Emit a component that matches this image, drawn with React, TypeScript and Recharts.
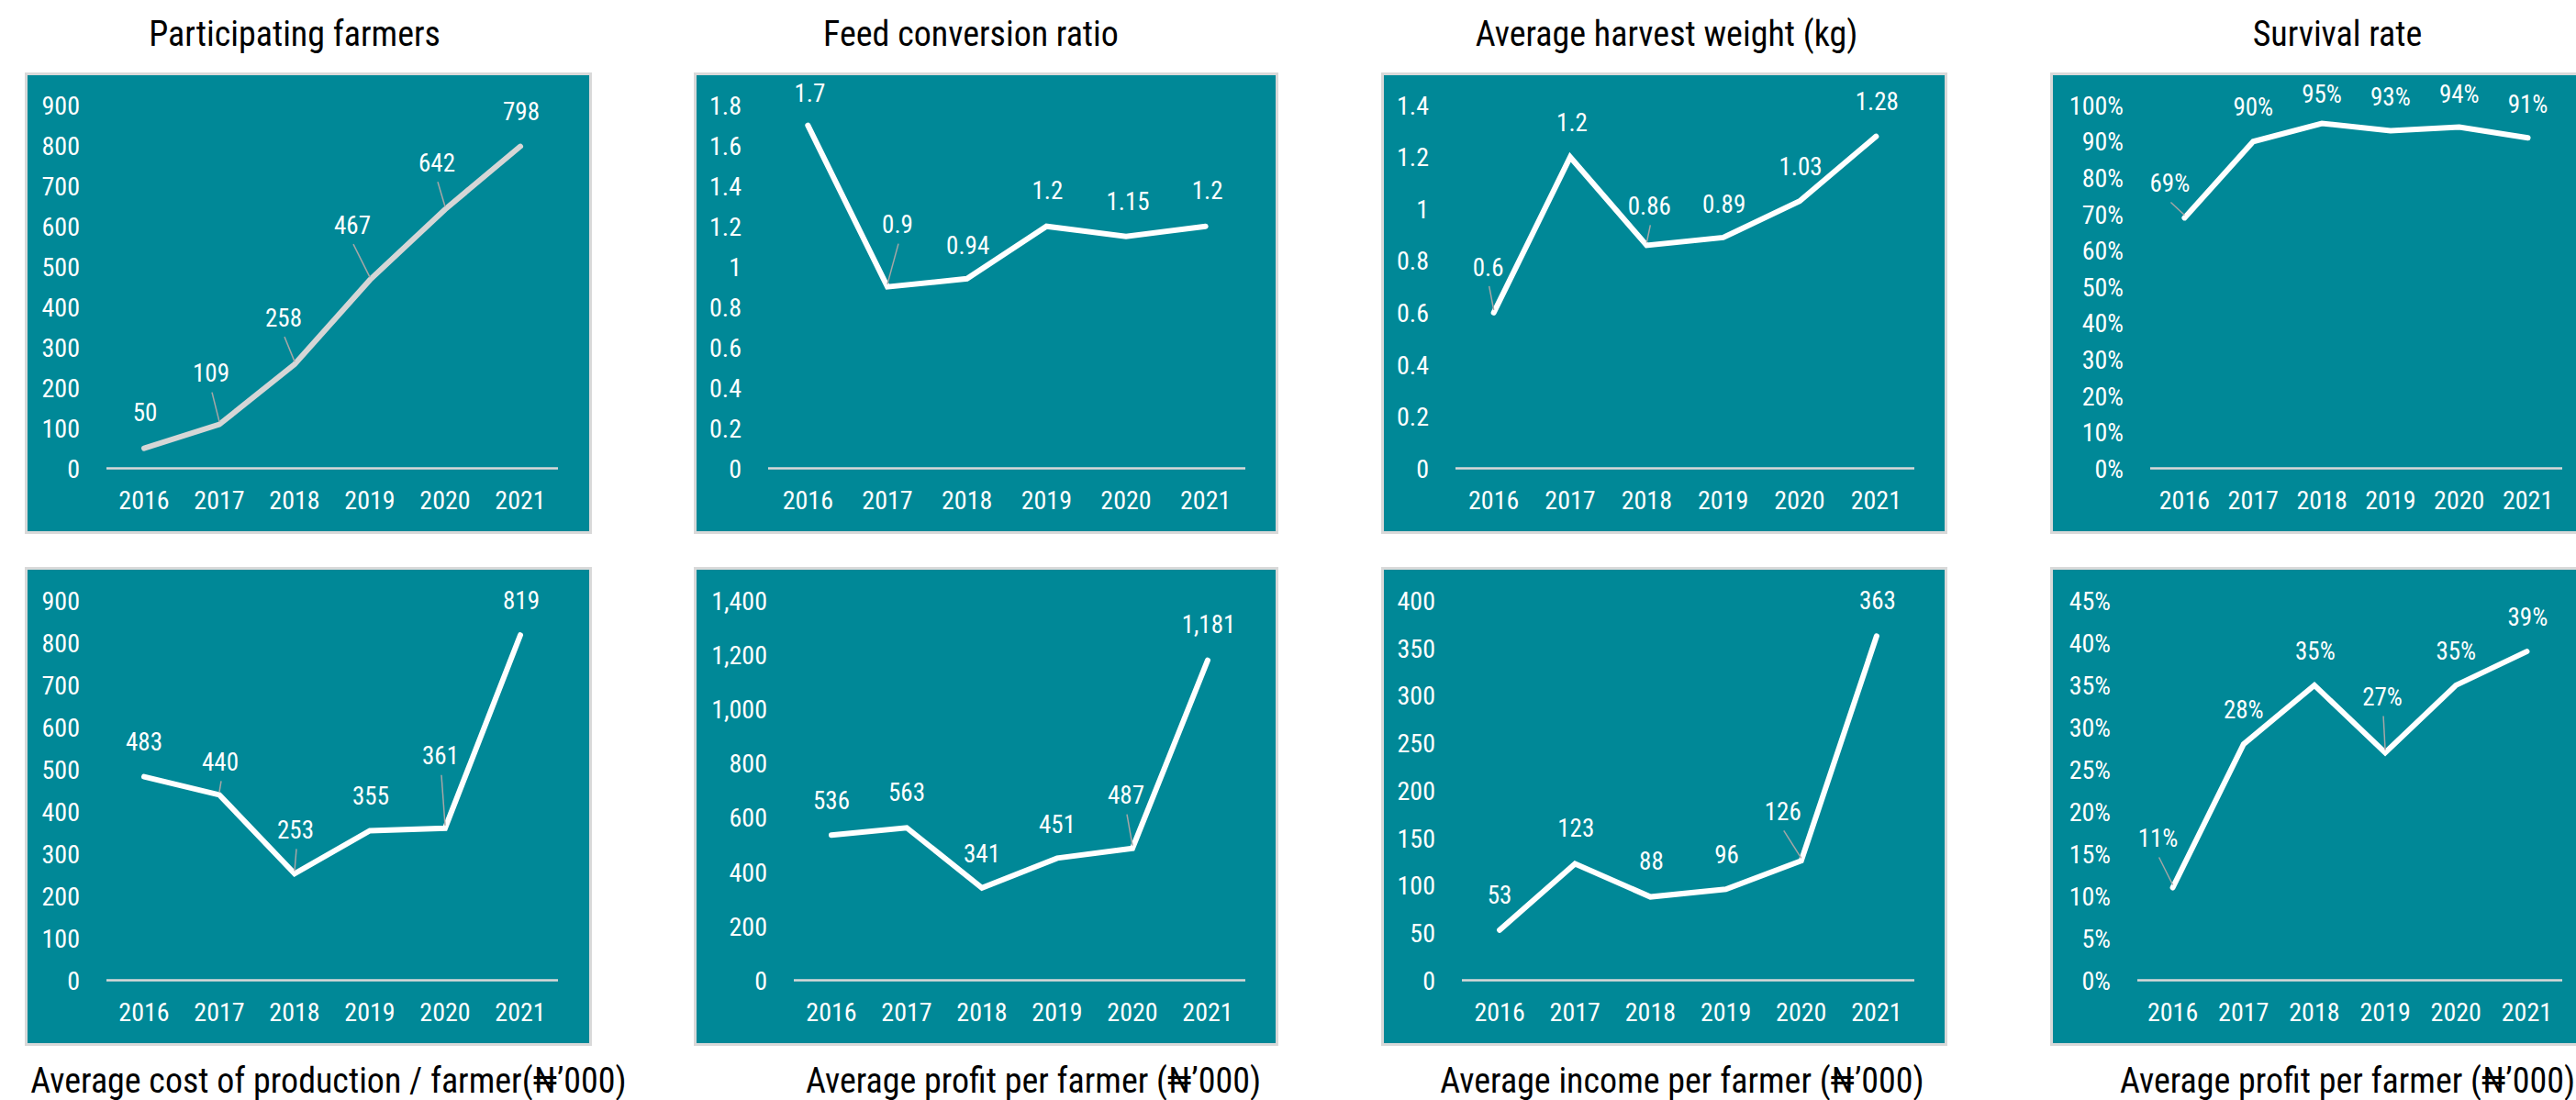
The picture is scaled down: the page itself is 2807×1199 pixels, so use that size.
import { LineChart, Line, XAxis, YAxis } from 'recharts';

const years = ['2016', '2017', '2018', '2019', '2020', '2021'];

const farmers = [50, 109, 258, 467, 642, 798];
const feedRatio = [1.7, 0.9, 0.94, 1.2, 1.15, 1.2];
const harvestWeight = [0.6, 1.2, 0.86, 0.89, 1.03, 1.28];
const survivalRate = [69, 90, 95, 93, 94, 91];
const costPerFarmer = [483, 440, 253, 355, 361, 819];
const profitPerFarmer = [536, 563, 341, 451, 487, 1181];
const incomePerFarmer = [53, 123, 88, 96, 126, 363];
const profitRate = [11, 28, 35, 27, 35, 39];

const ticks900 = [0, 100, 200, 300, 400, 500, 600, 700, 800, 900];
const ticksFeed = [0, 0.2, 0.4, 0.6, 0.8, 1, 1.2, 1.4, 1.6, 1.8];
const ticksWeight = [0, 0.2, 0.4, 0.6, 0.8, 1, 1.2, 1.4];
const ticksSurvival = [0, 10, 20, 30, 40, 50, 60, 70, 80, 90, 100];
const ticksProfit = [0, 200, 400, 600, 800, 1000, 1200, 1400];
const ticksIncome = [0, 50, 100, 150, 200, 250, 300, 350, 400];
const ticksRate = [0, 5, 10, 15, 20, 25, 30, 35, 40, 45];

const topTitles = ['Participating farmers', 'Feed conversion ratio', 'Average harvest weight (kg)', 'Survival rate'];
const bottomTitles = [
  'Average cost of production / farmer(₦’000)',
  'Average profit per farmer (₦’000)',
  'Average income per farmer (₦’000)',
  'Average profit per farmer (₦’000)',
];

// label nudges [dx, dy, leader line] relative to each point
const nudgeFarmers = [[1, -39, 0], [-9, -56, 1], [-12, -51, 1], [-19, -60, 1], [-9, -51, 1], [1, -38, 0]];
const nudgeFeed = [[2, -35, 0], [11, -68, 1], [1, -37, 0], [1, -39, 0], [2, -38, 0], [2, -39, 0]];
const nudgeWeight = [[-6, -50, 1], [2, -38, 0], [3, -43, 1], [1, -37, 0], [1, -38, 0], [1, -38, 0]];
const nudgeSurvival = [[-16, -38, 1], [0, -38, 0], [0, -32, 0], [0, -37, 0], [0, -36, 0], [0, -37, 0]];
const nudgeCost = [[0, -38, 0], [1, -36, 1], [1, -48, 1], [1, -38, 0], [-5, -79, 1], [1, -38, 0]];
const nudgeProfit = [[0, -38, 0], [0, -39, 0], [0, -38, 0], [0, -37, 0], [-7, -58, 1], [1, -39, 0]];
const nudgeIncome = [[0, -39, 0], [1, -39, 0], [1, -39, 0], [1, -38, 0], [-20, -54, 1], [1, -39, 0]];
const nudgeRate = [[-16, -54, 1], [0, -38, 0], [1, -38, 0], [-3, -61, 1], [0, -38, 0], [1, -38, 0]];

const FONT = "'Liberation Sans Narrow', 'Arial Narrow', 'Roboto Condensed', 'DejaVu Sans Condensed', sans-serif";
const TEAL = '#008897';
const BORDER = '#d9d9d9';

const plain = (v: number) => String(v);
const comma = (v: number) => v.toLocaleString('en-US');
const pct = (v: number) => `${v}%`;

interface PanelProps {
  left: number;
  top: number;
  width: number;
  height: number;
  plotL: number;
  plotR: number;
  plotTop: number;
  plotBottom: number;
  values: number[];
  ticks: number[];
  fmt: (v: number) => string;
  nudges: number[][];
  color?: string;
}

function Panel({ left, top, width, height, plotL, plotR, plotTop, plotBottom, values, ticks, fmt, nudges, color = '#ffffff' }: PanelProps) {
  const W = width - 6;
  const H = height - 6;
  const yAxisW = plotL - (left + 3);
  const mRight = left + 3 + W - plotR;
  const mTop = plotTop - (top + 3);
  const xAxisH = top + 3 + H - plotBottom;
  const band = (plotR - plotL) / years.length;
  const data = years.map((y, i) => ({ year: y, value: values[i] }));
  const xLabelY = plotBottom - (top + 3) + 34;

  return (
    <div
      style={{
        position: 'absolute',
        left,
        top,
        width,
        height,
        boxSizing: 'border-box',
        border: `3px solid ${BORDER}`,
        background: TEAL,
      }}
    >
      <LineChart width={W} height={H} data={data} margin={{ top: mTop, right: mRight, bottom: 0, left: 0 }}>
        <XAxis
          dataKey="year"
          height={xAxisH}
          padding={{ left: band / 2, right: band / 2 }}
          axisLine={{ stroke: BORDER, strokeWidth: 2.5 }}
          tickLine={false}
          interval={0}
          tick={(p: any) => (
            <text x={p.x} y={xLabelY} dy="0.36em" textAnchor="middle" fill="#fff" fontSize={28} fontFamily={FONT}>
              {p.payload.value}
            </text>
          )}
        />
        <YAxis
          width={yAxisW}
          domain={[0, ticks[ticks.length - 1]]}
          ticks={ticks}
          interval={0}
          axisLine={false}
          tickLine={false}
          tick={(p: any) => (
            <text x={yAxisW - 29} y={p.y} dy="0.36em" textAnchor="end" fill="#fff" fontSize={28} fontFamily={FONT}>
              {fmt(p.payload.value)}
            </text>
          )}
        />
        <Line
          type="linear"
          dataKey="value"
          stroke={color}
          strokeWidth={6}
          strokeLinecap="round"
          dot={false}
          activeDot={false}
          isAnimationActive={false}
          label={(p: any) => {
            const [dx, dy, lead] = nudges[p.index] || [0, -38, 0];
            const lx = p.x + dx;
            const ly = p.y + dy;
            return (
              <g key={`lbl-${p.index}`}>
                {lead ? (
                  <line x1={lx + 1} y1={ly + 21} x2={p.x} y2={p.y - 3} stroke="#a6a6a6" strokeWidth={1.5} />
                ) : null}
                <text x={lx} y={ly} dy="0.36em" textAnchor="middle" fill="#fff" fontSize={27} fontFamily={FONT}>
                  {fmt(p.value)}
                </text>
              </g>
            );
          }}
        />
      </LineChart>
    </div>
  );
}

const TOP = { top: 79, height: 503, plotTop: 114.7, plotBottom: 510.6 };
const BOT = { top: 618, height: 522, plotTop: 655, plotBottom: 1068.6 };

function Title({ text, cx, top }: { text: string; cx: number; top: number }) {
  return (
    <div
      style={{
        position: 'absolute',
        left: cx - 500,
        width: 1000,
        top,
        textAlign: 'center',
        fontFamily: FONT,
        fontSize: 38,
        lineHeight: '38px',
        whiteSpace: 'nowrap',
        color: '#000',
      }}
    >
      {text}
    </div>
  );
}

export default function App() {
  return (
    <div
      style={{
        position: 'absolute',
        left: 0,
        top: 0,
        width: 2807,
        height: 1199,
        overflow: 'hidden',
        background: '#fff',
      }}
    >
      <Title text={topTitles[0]} cx={321} top={18} />
      <Title text={topTitles[1]} cx={1058} top={18} />
      <Title text={topTitles[2]} cx={1816} top={18} />
      <Title text={topTitles[3]} cx={2547} top={18} />

      <Panel {...TOP} left={27} width={618} plotL={116} plotR={608} values={farmers} ticks={ticks900} fmt={plain} nudges={nudgeFarmers} color="#d6d6d6" />
      <Panel {...TOP} left={756} width={637} plotL={837} plotR={1357} values={feedRatio} ticks={ticksFeed} fmt={plain} nudges={nudgeFeed} />
      <Panel {...TOP} left={1505} width={617} plotL={1586} plotR={2086} values={harvestWeight} ticks={ticksWeight} fmt={plain} nudges={nudgeWeight} />
      <Panel {...TOP} left={2234} width={620} plotL={2343} plotR={2792} values={survivalRate} ticks={ticksSurvival} fmt={pct} nudges={nudgeSurvival} />

      <Panel {...BOT} left={27} width={618} plotL={116} plotR={608} values={costPerFarmer} ticks={ticks900} fmt={plain} nudges={nudgeCost} />
      <Panel {...BOT} left={756} width={637} plotL={865} plotR={1357} values={profitPerFarmer} ticks={ticksProfit} fmt={comma} nudges={nudgeProfit} />
      <Panel {...BOT} left={1505} width={617} plotL={1593} plotR={2086} values={incomePerFarmer} ticks={ticksIncome} fmt={plain} nudges={nudgeIncome} />
      <Panel {...BOT} left={2234} width={620} plotL={2329} plotR={2792} values={profitRate} ticks={ticksRate} fmt={pct} nudges={nudgeRate} />

      <Title text={bottomTitles[0]} cx={358} top={1159} />
      <Title text={bottomTitles[1]} cx={1126} top={1159} />
      <Title text={bottomTitles[2]} cx={1833} top={1159} />
      <Title text={bottomTitles[3]} cx={2558} top={1159} />
    </div>
  );
}
